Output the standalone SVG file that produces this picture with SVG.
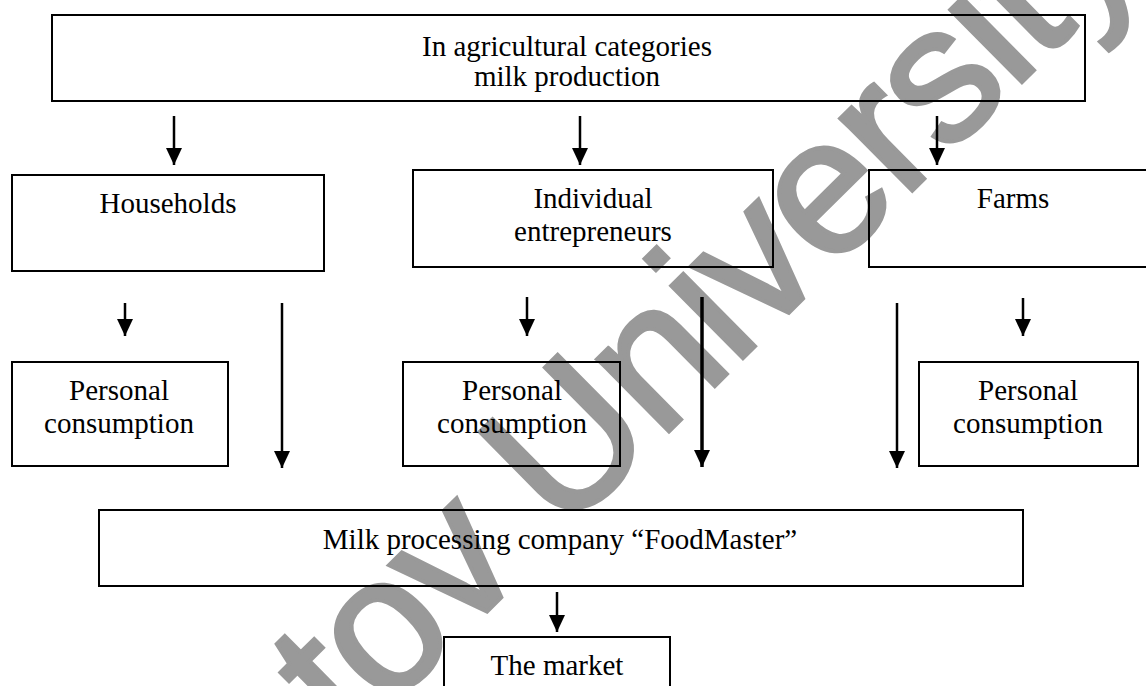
<svg xmlns="http://www.w3.org/2000/svg" width="1146" height="686" viewBox="0 0 1146 686">
<style>
.bg{fill:#ffffff}
.wm{font-family:"Liberation Sans",Arial,sans-serif;font-size:193px;letter-spacing:-3px;fill:#999999;stroke:#999999;stroke-width:4}
.box{fill:none;stroke:#000;stroke-width:2}
.t{font-family:"Liberation Serif","Times New Roman",serif;font-size:29px;fill:#000;text-anchor:middle}
.c{stroke:#000;stroke-width:2.5;fill:none}
</style>
<defs>
<marker id="ah" markerUnits="userSpaceOnUse" markerWidth="17" markerHeight="16" viewBox="0 0 17 16" refX="17" refY="8" orient="auto">
<path d="M0,0 L17,8 L0,16 Z" fill="#000"/>
</marker>
</defs>
<rect class="bg" x="0" y="0" width="1146" height="686"/>
<text class="wm" transform="translate(350,747) rotate(-44.7)">tov University</text>
<g id="connectors">
<line class="c" x1="174" y1="116" x2="174" y2="165" marker-end="url(#ah)"/>
<line class="c" x1="580" y1="116" x2="580" y2="165" marker-end="url(#ah)"/>
<line class="c" x1="937" y1="116" x2="937" y2="165" marker-end="url(#ah)"/>
<line class="c" x1="125" y1="303" x2="125" y2="336" marker-end="url(#ah)"/>
<line class="c" x1="282" y1="303" x2="282" y2="468" marker-end="url(#ah)"/>
<line class="c" x1="527" y1="297" x2="527" y2="336" marker-end="url(#ah)"/>
<line class="c" x1="702" y1="297" x2="702" y2="467" style="stroke-width:3.5" marker-end="url(#ah)"/>
<line class="c" x1="897" y1="303" x2="897" y2="468" marker-end="url(#ah)"/>
<line class="c" x1="1023" y1="298" x2="1023" y2="336" marker-end="url(#ah)"/>
<line class="c" x1="557" y1="592" x2="557" y2="632" marker-end="url(#ah)"/>
</g>
<g id="top">
<rect class="box" x="52" y="15" width="1033" height="86"/>
<text class="t" x="567" y="56">In agricultural categories</text>
<text class="t" x="567" y="86">milk production</text>
</g>
<g id="households">
<rect class="box" x="12" y="175" width="312" height="96"/>
<text class="t" x="168" y="213">Households</text>
</g>
<g id="entrepreneurs">
<rect class="box" x="413" y="170" width="360" height="97"/>
<text class="t" x="593" y="208">Individual</text>
<text class="t" x="593" y="241">entrepreneurs</text>
</g>
<g id="farms">
<rect class="box" x="869" y="170" width="290" height="97"/>
<text class="t" x="1013" y="208">Farms</text>
</g>
<g id="pc1">
<rect class="box" x="12" y="362" width="216" height="104"/>
<text class="t" x="119" y="400">Personal</text>
<text class="t" x="119" y="433">consumption</text>
</g>
<g id="pc2">
<rect class="box" x="403" y="362" width="217" height="104"/>
<text class="t" x="512" y="400">Personal</text>
<text class="t" x="512" y="433">consumption</text>
</g>
<g id="pc3">
<rect class="box" x="919" y="362" width="219" height="104"/>
<text class="t" x="1028" y="400">Personal</text>
<text class="t" x="1028" y="433">consumption</text>
</g>
<g id="foodmaster">
<rect class="box" x="99" y="510" width="924" height="76"/>
<text class="t" x="560" y="549">Milk processing company “FoodMaster”</text>
</g>
<g id="market">
<rect class="box" x="444" y="637" width="226" height="60"/>
<text class="t" x="557" y="675">The market</text>
</g>
</svg>
